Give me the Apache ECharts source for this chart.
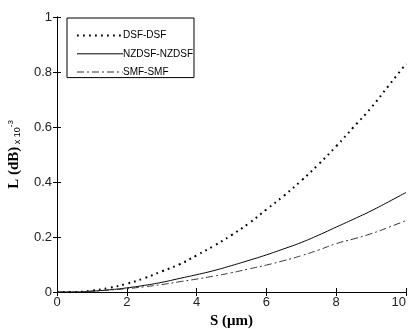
<!DOCTYPE html>
<html><head><meta charset="utf-8">
<script src="https://cdn.jsdelivr.net/npm/echarts@6/dist/echarts.min.js"></script>
<style>html,body{margin:0;padding:0;background:#fff}#c{width:413px;height:329px}</style>
</head><body><div id="c"></div>
<script>
var sValues = [0,0.5,1,1.5,2,2.5,3,3.5,4,4.5,5,5.5,6,6.5,7,7.5,8,8.5,9,9.5,10];
var dsf =   [0,0,0.005,0.015,0.03,0.05,0.075,0.1,0.133,0.168,0.207,0.25,0.3,0.35,0.405,0.465,0.53,0.6,0.67,0.75,0.83];
var nzdsf = [0,0,0.003,0.008,0.015,0.024,0.035,0.049,0.063,0.078,0.096,0.115,0.135,0.157,0.18,0.207,0.236,0.265,0.295,0.328,0.362];
var smf =   [0,0,0.003,0.007,0.012,0.019,0.027,0.037,0.047,0.058,0.07,0.084,0.098,0.114,0.132,0.153,0.176,0.193,0.212,0.235,0.26];
var seriesNames = ['DSF-DSF','NZDSF-NZDSF','SMF-SMF'];
var xTicks = [0,2,4,6,8,10];
var yTicks = [0,0.2,0.4,0.6,0.8,1];

function pairs(ys){ return sValues.map(function(x,i){return [x, ys[i]];}); }

var chart = echarts.init(document.getElementById('c'), null, {renderer:'canvas'});
var tickFont = {color:'#222', fontFamily:'Liberation Sans, Arial, sans-serif', fontSize:13};
var axisLine = {show:true, lineStyle:{color:'#000', width:1}};
var axisTick = {show:true, inside:true, length:4, lineStyle:{color:'#000'}};
chart.setOption({
  animation:false,
  grid:{left:57, right:7, top:17, bottom:37, containLabel:false, outerBoundsMode:'none'},
  legend:{
    left:67, top:18, orient:'vertical',
    data:seriesNames,
    itemWidth:46, itemHeight:14, itemGap:7,
    borderColor:'#000', borderWidth:1, padding:[12,1,0,9],
    backgroundColor:'#fff',
    itemStyle:{color:'transparent', borderWidth:0, opacity:0},
    lineStyle:{width:'inherit'},
    textStyle:{color:'#000', fontFamily:'Liberation Sans, Arial, sans-serif', fontSize:10, padding:[0,0,0,-5]}
  },
  xAxis:[{
    type:'value', min:0, max:10, interval:2,
    axisLine:axisLine, axisTick:axisTick, splitLine:{show:false},
    axisLabel:Object.assign({margin:4, alignMaxLabel:'right', formatter:function(v){return xTicks.indexOf(v)>=0? String(v):'';}}, tickFont),
    name:'{a|S (}{m|\u03bc}{a|m)}', nameLocation:'middle', nameGap:20,
    nameTextStyle:{rich:{
      a:{fontFamily:'Liberation Serif, Times New Roman, serif', fontWeight:'bold', fontSize:15, color:'#000'},
      m:{fontFamily:'Liberation Serif, Times New Roman, serif', fontWeight:'bold', fontSize:15, color:'#000'}
    }}
  },{
    type:'value', min:0, max:10, interval:2, position:'top',
    axisLine:axisLine, axisTick:axisTick, axisLabel:{show:false}, splitLine:{show:false}
  }],
  yAxis:[{
    type:'value', min:0, max:1, interval:0.2,
    axisLine:axisLine, axisTick:axisTick, splitLine:{show:false},
    axisLabel:Object.assign({margin:5, formatter:function(v){
      var r = Math.round(v*10)/10; return yTicks.indexOf(r)>=0 ? String(r) : '';}}, tickFont),
    name:'{a|L (dB)}{b| x 10}{c|-3}', nameLocation:'middle', nameRotate:90, nameGap:35,
    nameTextStyle:{rich:{
      a:{fontFamily:'Liberation Serif, Times New Roman, serif', fontWeight:'bold', fontSize:15, color:'#000', verticalAlign:'bottom'},
      b:{fontFamily:'Liberation Sans, Arial, sans-serif', fontSize:9, color:'#000', verticalAlign:'bottom'},
      c:{fontFamily:'Liberation Sans, Arial, sans-serif', fontSize:8, color:'#000', verticalAlign:'top'}
    }}
  },{
    type:'value', min:0, max:1, interval:0.2, position:'right',
    axisLine:axisLine, axisTick:axisTick, axisLabel:{show:false}, splitLine:{show:false}
  }],
  series:[
    {name:seriesNames[0], type:'line', data:pairs(dsf), symbol:'none', smooth:true,
     lineStyle:{color:'#000', width:2, type:[1.8,4.2], cap:'butt'}, itemStyle:{color:'#000'}},
    {name:seriesNames[1], type:'line', data:pairs(nzdsf), symbol:'none', smooth:true,
     lineStyle:{color:'#000', width:1, type:'solid'}, itemStyle:{color:'#000'}},
    {name:seriesNames[2], type:'line', data:pairs(smf), symbol:'none', smooth:true,
     lineStyle:{color:'#333', width:1, type:[7,3,2,3]}, itemStyle:{color:'#333'}}
  ]
});
</script></body></html>
